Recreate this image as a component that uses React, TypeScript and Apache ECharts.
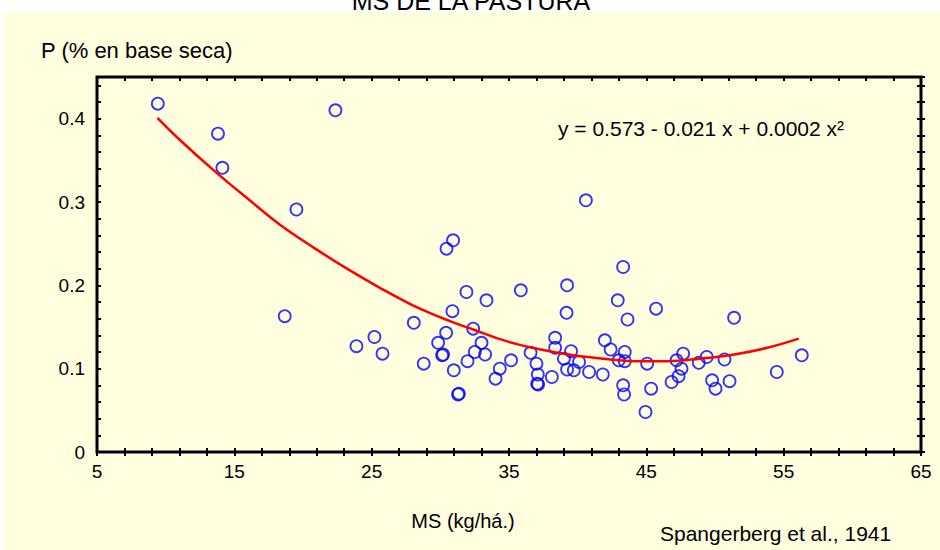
import React, { useEffect, useRef } from "react";
import * as echarts from "echarts";

// Scatter observations: MS (kg/há.) vs P (% en base seca)
const msValues = [
  9.43, 13.81, 14.13, 19.52, 22.36, 40.6, 18.67, 30.93, 30.45, 31.9,
  33.36, 35.86, 39.23, 39.19, 28.07, 30.88, 32.39, 30.42, 29.84, 33.0,
  25.2, 23.89, 25.79, 32.51, 33.26, 30.13, 30.2, 28.79, 31.98, 30.98,
  34.33, 34.02, 35.15, 36.57, 37.0, 37.1, 37.12, 38.12, 38.36, 38.36,
  31.29, 31.35, 39.0, 39.52, 39.23, 39.72, 40.1, 40.83, 41.83, 41.98,
  42.4, 43.31, 42.92, 45.71, 43.63, 51.39, 43.43, 42.99, 43.43, 43.31,
  43.38, 44.94, 45.06, 45.35, 46.84, 47.2, 47.68, 47.56, 47.35, 48.82,
  49.4, 50.69, 49.79, 50.04, 51.06, 54.5, 56.32, 37.05,
];
const pValues = [
  0.418, 0.382, 0.341, 0.291, 0.41, 0.302, 0.163, 0.254, 0.244, 0.192,
  0.182, 0.194, 0.2, 0.167, 0.155, 0.169, 0.148, 0.143, 0.131, 0.131,
  0.138, 0.127, 0.118, 0.12, 0.117, 0.116, 0.117, 0.106, 0.109, 0.098,
  0.1, 0.088, 0.11, 0.119, 0.106, 0.093, 0.081, 0.09, 0.137, 0.125,
  0.069, 0.07, 0.112, 0.121, 0.099, 0.098, 0.108, 0.096, 0.093, 0.134,
  0.123, 0.222, 0.182, 0.172, 0.159, 0.161, 0.12, 0.11, 0.109, 0.08,
  0.069, 0.048, 0.106, 0.076, 0.084, 0.11, 0.118, 0.1, 0.091, 0.107,
  0.114, 0.111, 0.086, 0.076, 0.085, 0.096, 0.116, 0.082,
];

// Fitted curve
const curveX = [9.4, 11.0, 13.5, 15.9, 18.3, 20.8, 23.2, 25.6, 28.0, 30.7, 32.4, 34.8, 37.3, 39.7, 42.4, 44.1, 46.5, 48.9, 51.4, 53.8, 56.1];
const curveY = [0.401, 0.375, 0.338, 0.305, 0.273, 0.245, 0.22, 0.197, 0.176, 0.157, 0.147, 0.133, 0.123, 0.116, 0.111, 0.109, 0.109, 0.112, 0.117, 0.125, 0.136];

const xTickLabels = ["5", "15", "25", "35", "45", "55", "65"];
const yTickLabels = ["0", "0.1", "0.2", "0.3", "0.4"];

const TITLE = "MS DE LA PASTURA";
const Y_NAME = "P (% en base seca)";
const X_NAME = "MS (kg/há.)";
const EQUATION = "y = 0.573 - 0.021 x + 0.0002 x²";
const CREDIT = "Spangerberg et al., 1941";

const FONT = "'Liberation Sans', Arial, sans-serif";

export default function App() {
  const ref = useRef<HTMLDivElement>(null);

  useEffect(() => {
    if (!ref.current) return;
    const chart = echarts.init(ref.current, null, { renderer: "svg" });

    const scatterData = msValues.map((x, i) => [x, pValues[i]]);
    const curveData = curveX.map((x, i) => [x, curveY[i]]);

    const tickAxisX = (position: string, inside: boolean, interval: number) => ({
      type: "value",
      min: 5,
      max: 65,
      interval,
      position,
      axisLine: { show: false, onZero: false },
      axisTick: { show: true, inside, length: 4, lineStyle: { color: "#000", width: 2 } },
      axisLabel: { show: false },
      splitLine: { show: false },
    });
    const tickAxisY = (position: string, inside: boolean, interval: number) => ({
      type: "value",
      min: 0,
      max: 0.45,
      interval,
      position,
      axisLine: { show: false, onZero: false },
      axisTick: { show: true, inside, length: 4, lineStyle: { color: "#000", width: 2 } },
      axisLabel: { show: false },
      splitLine: { show: false },
    });

    chart.setOption({
      animation: false,
      backgroundColor: "transparent",
      textStyle: { fontFamily: FONT },
      grid: {
        left: 97,
        top: 77,
        width: 824,
        height: 375,
        show: true,
        borderColor: "#000",
        borderWidth: 3,
        backgroundColor: "transparent",
      },
      xAxis: [
        {
          type: "value",
          min: 5,
          max: 65,
          interval: 10,
          position: "bottom",
          axisLine: { show: false, onZero: false },
          axisTick: { show: false },
          splitLine: { show: false },
          axisLabel: {
            color: "#000",
            fontSize: 19,
            fontFamily: FONT,
            margin: 10,
            formatter: (v: number) => {
              const idx = Math.round((v - 5) / 10);
              return Math.abs(v - (5 + idx * 10)) < 1e-6 ? xTickLabels[idx] ?? "" : "";
            },
          },
        },
        tickAxisX("bottom", true, 2),
        tickAxisX("bottom", false, 2),
        tickAxisX("top", true, 2),
      ],
      yAxis: [
        {
          type: "value",
          min: 0,
          max: 0.45,
          interval: 0.1,
          position: "left",
          axisLine: { show: false, onZero: false },
          axisTick: { show: false },
          splitLine: { show: false },
          axisLabel: {
            color: "#000",
            fontSize: 19,
            fontFamily: FONT,
            margin: 12,
            showMaxLabel: false,
            formatter: (v: number) => {
              const idx = Math.round(v * 10);
              return Math.abs(v - idx / 10) < 1e-6 ? yTickLabels[idx] ?? "" : "";
            },
          },
        },
        tickAxisY("left", true, 0.02),
        tickAxisY("right", true, 0.02),
        tickAxisY("right", false, 0.02),
      ],
      series: [
        {
          type: "scatter",
          xAxisIndex: 0,
          yAxisIndex: 0,
          data: scatterData,
          symbol: "circle",
          symbolSize: 12,
          itemStyle: { color: "rgba(0,0,0,0)", borderColor: "#0000FF", borderWidth: 1.8 },
          emphasis: { disabled: true },
        },
        {
          type: "line",
          xAxisIndex: 0,
          yAxisIndex: 0,
          data: curveData,
          smooth: 0.4,
          showSymbol: false,
          symbol: "none",
          lineStyle: { color: "#FF0000", width: 2.5 },
          emphasis: { disabled: true },
        },
      ],
      graphic: [
        {
          type: "text",
          x: 471,
          y: 1,
          style: { text: TITLE, fill: "#000", font: `25px ${FONT}`, textAlign: "center", textVerticalAlign: "middle" },
        },
        {
          type: "text",
          x: 41,
          y: 50,
          style: { text: Y_NAME, fill: "#000", font: `22px ${FONT}`, textAlign: "left", textVerticalAlign: "middle" },
        },
        {
          type: "text",
          x: 558,
          y: 128,
          style: { text: EQUATION, fill: "#000", font: `21px ${FONT}`, textAlign: "left", textVerticalAlign: "middle" },
        },
        {
          type: "text",
          x: 463,
          y: 521,
          style: { text: X_NAME, fill: "#000", font: `20px ${FONT}`, textAlign: "center", textVerticalAlign: "middle" },
        },
        {
          type: "text",
          x: 660,
          y: 533,
          style: { text: CREDIT, fill: "#000", font: `21px ${FONT}`, textAlign: "left", textVerticalAlign: "middle" },
        },
      ],
    });

    return () => chart.dispose();
  }, []);

  return (
    <div style={{ position: "fixed", left: 0, top: 0, width: 940, height: 550, background: "#FFFFFF", overflow: "hidden" }}>
      <div style={{ position: "absolute", left: 4, top: 12, right: 0, bottom: 0, background: "#FFFFE0" }} />
      <div ref={ref} style={{ position: "absolute", left: 0, top: 0, width: 940, height: 550 }} />
    </div>
  );
}
